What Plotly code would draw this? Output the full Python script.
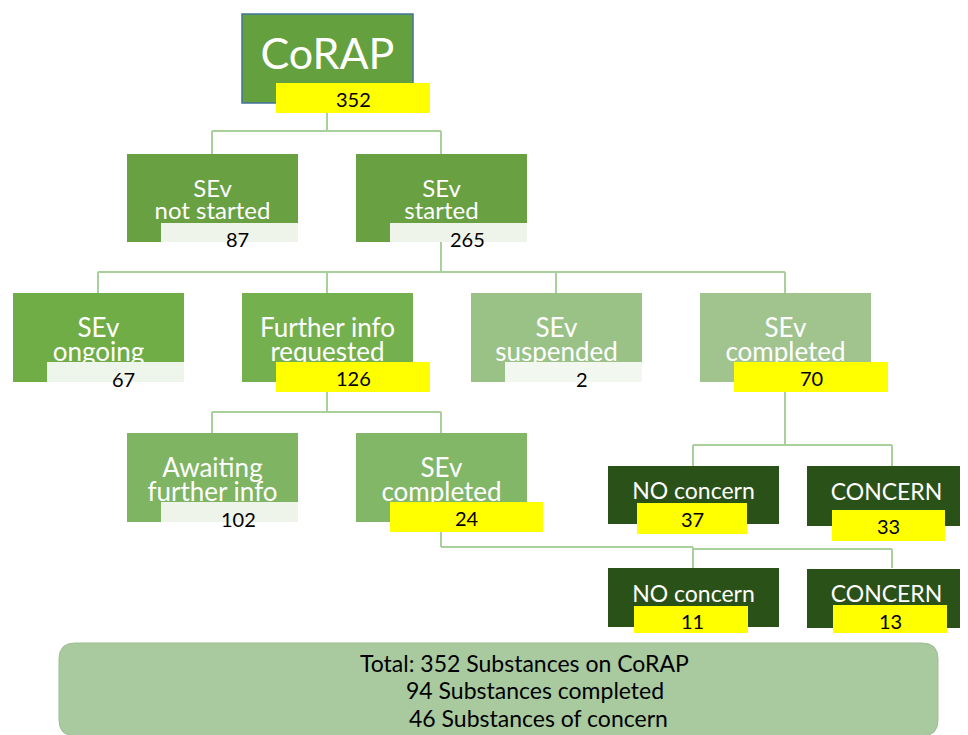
import plotly.graph_objects as go

# ---------------- data ----------------
node_titles = ["CoRAP", "SEv<br>not started", "SEv<br>started", "SEv<br>ongoing",
               "Further info<br>requested", "SEv<br>suspended", "SEv<br>completed",
               "Awaiting<br>further info", "SEv<br>completed", "NO concern", "CONCERN",
               "NO concern", "CONCERN"]
node_counts = [352, 87, 265, 67, 126, 2, 70, 102, 24, 37, 33, 11, 13]
highlighted = [True, False, False, False, True, False, True, False, True, True, True, True, True]
summary_lines = ["Total: 352 Substances on CoRAP", "94 Substances completed", "46 Substances of concern"]

# ---------------- layout (pixel geometry) ----------------
boxes = [
    (242, 413, 14, 103, "#64A03E"),
    (127, 298, 154, 242, "#68A042"),
    (356, 527, 154, 242, "#68A042"),
    (13, 184, 293, 382, "#70AD47"),
    (242, 413, 293, 382, "#75B04F"),
    (471, 642, 293, 382, "#9AC287"),
    (700, 871, 293, 382, "#A1C48F"),
    (127, 298, 433, 522, "#7EB462"),
    (356, 527, 433, 522, "#82B767"),
    (608, 779, 466, 524, "#2A5118"),
    (807, 966, 466, 526, "#2A5118"),
    (608, 779, 568, 627, "#2A5118"),
    (807, 966, 569, 628, "#2A5118"),
]
labels = [
    (276, 430, 83, 113), (161, 298, 223, 242), (390, 527, 223, 242),
    (47, 184, 362, 382), (276, 430, 362, 392), (505, 642, 362, 382),
    (734, 888, 362, 392), (161, 298, 502, 522), (390, 543, 502, 532),
    (637, 747, 503, 534), (832, 945, 510, 541), (634, 748, 606, 633),
    (833, 947, 605, 633),
]
num_pos = [(353, 99), (237, 239), (467, 239), (123, 379), (353, 378), (582, 379),
           (811, 378), (238, 519), (467, 518), (692, 519), (888, 526), (692, 621),
           (890, 621)]
title_ys = [[58], [191, 213], [191, 213], [330, 354], [330, 354], [330, 354], [330, 354],
            [470, 494], [470, 494], [493], [494], [596], [596]]
title_sizes = [43, 24, 24, 26, 26, 26, 26, 26, 26, 23, 23, 23, 23]
light_label = ["#EEF4EA", "#EEF4EA", "#EEF5EA", "#F2F7EF", "#EEF4EA"]

connectors = [
    [(327, 113), (327, 131)], [(212, 131), (441, 131)], [(212, 131), (212, 154)], [(441, 131), (441, 154)],
    [(441, 242), (441, 272)], [(98, 272), (785, 272)],
    [(98, 272), (98, 293)], [(327, 272), (327, 293)], [(556, 272), (556, 293)], [(785, 272), (785, 293)],
    [(327, 392), (327, 412)], [(212, 412), (441, 412)], [(212, 412), (212, 433)], [(441, 412), (441, 433)],
    [(785, 392), (785, 445)], [(693, 445), (892, 445)], [(693, 445), (693, 466)], [(892, 445), (892, 466)],
    [(441, 532), (441, 547)], [(441, 547), (693, 547)], [(693, 549), (892, 549)],
    [(693, 547), (693, 568)], [(892, 549), (892, 568)],
]

FONT = "Lato, 'Open Sans', sans-serif"
OFF = 8  # page body margin in the written html
shapes = []
annotations = []

for (p0, p1) in connectors:
    shapes.append(dict(type="line", x0=p0[0], y0=p0[1], x1=p1[0], y1=p1[1],
                       line=dict(color="#A9CF9B", width=2), layer="below"))

for i, (x0, x1, y0, y1, fill) in enumerate(boxes):
    line = dict(color="#41719C", width=1.5) if i == 0 else dict(width=0)
    shapes.append(dict(type="rect", x0=x0, x1=x1, y0=y0, y1=y1, fillcolor=fill,
                       line=line, layer="below"))

li = 0
for i, (x0, x1, y0, y1) in enumerate(labels):
    if highlighted[i]:
        col = "#FFFF00"
    else:
        col = light_label[li % len(light_label)]
        li += 1
    shapes.append(dict(type="rect", x0=x0, x1=x1, y0=y0, y1=y1, fillcolor=col,
                       line=dict(width=0), layer="above"))

sx0, sx1, sy0, sy1, r = 59, 938, 643, 736, 16
path = (f"M {sx0+r},{sy0} L {sx1-r},{sy0} Q {sx1},{sy0} {sx1},{sy0+r} "
        f"L {sx1},{sy1-r} Q {sx1},{sy1} {sx1-r},{sy1} L {sx0+r},{sy1} "
        f"Q {sx0},{sy1} {sx0},{sy1-r} L {sx0},{sy0+r} Q {sx0},{sy0} {sx0+r},{sy0} Z")
shapes.append(dict(type="path", path=path, fillcolor="#A9C99F",
                   line=dict(color="#9DBE93", width=1), layer="below"))

fig = go.Figure()

for i, title in enumerate(node_titles):
    parts = title.split("<br>")
    cx = (boxes[i][0] + boxes[i][1]) / 2
    for part, y in zip(parts, title_ys[i]):
        fig.add_trace(go.Scatter(x=[cx], y=[y], mode="text", text=[part],
                                 textposition="middle center",
                                 textfont=dict(family=FONT, size=title_sizes[i], color="white"),
                                 hoverinfo="skip", showlegend=False, cliponaxis=False))

for i, v in enumerate(node_counts):
    x, y = num_pos[i]
    annotations.append(dict(x=x, y=y, text=str(v), showarrow=False,
                            font=dict(family=FONT, size=20, color="black"),
                            xanchor="center", yanchor="middle"))

sum_x = [524, 535, 538]
sum_y = [663, 690, 718]
for t, x, y in zip(summary_lines, sum_x, sum_y):
    annotations.append(dict(x=x, y=y, text=t, showarrow=False,
                            font=dict(family=FONT, size=23, color="black"),
                            xanchor="center", yanchor="middle"))

fig.update_layout(
    width=968, height=735,
    margin=dict(l=0, r=0, t=0, b=0),
    paper_bgcolor="white", plot_bgcolor="white",
    xaxis=dict(range=[OFF, 968 + OFF], visible=False, fixedrange=True),
    yaxis=dict(range=[735 + OFF, OFF], visible=False, fixedrange=True),
    shapes=shapes, annotations=annotations, showlegend=False,
)

fig.write_html("out.html")
